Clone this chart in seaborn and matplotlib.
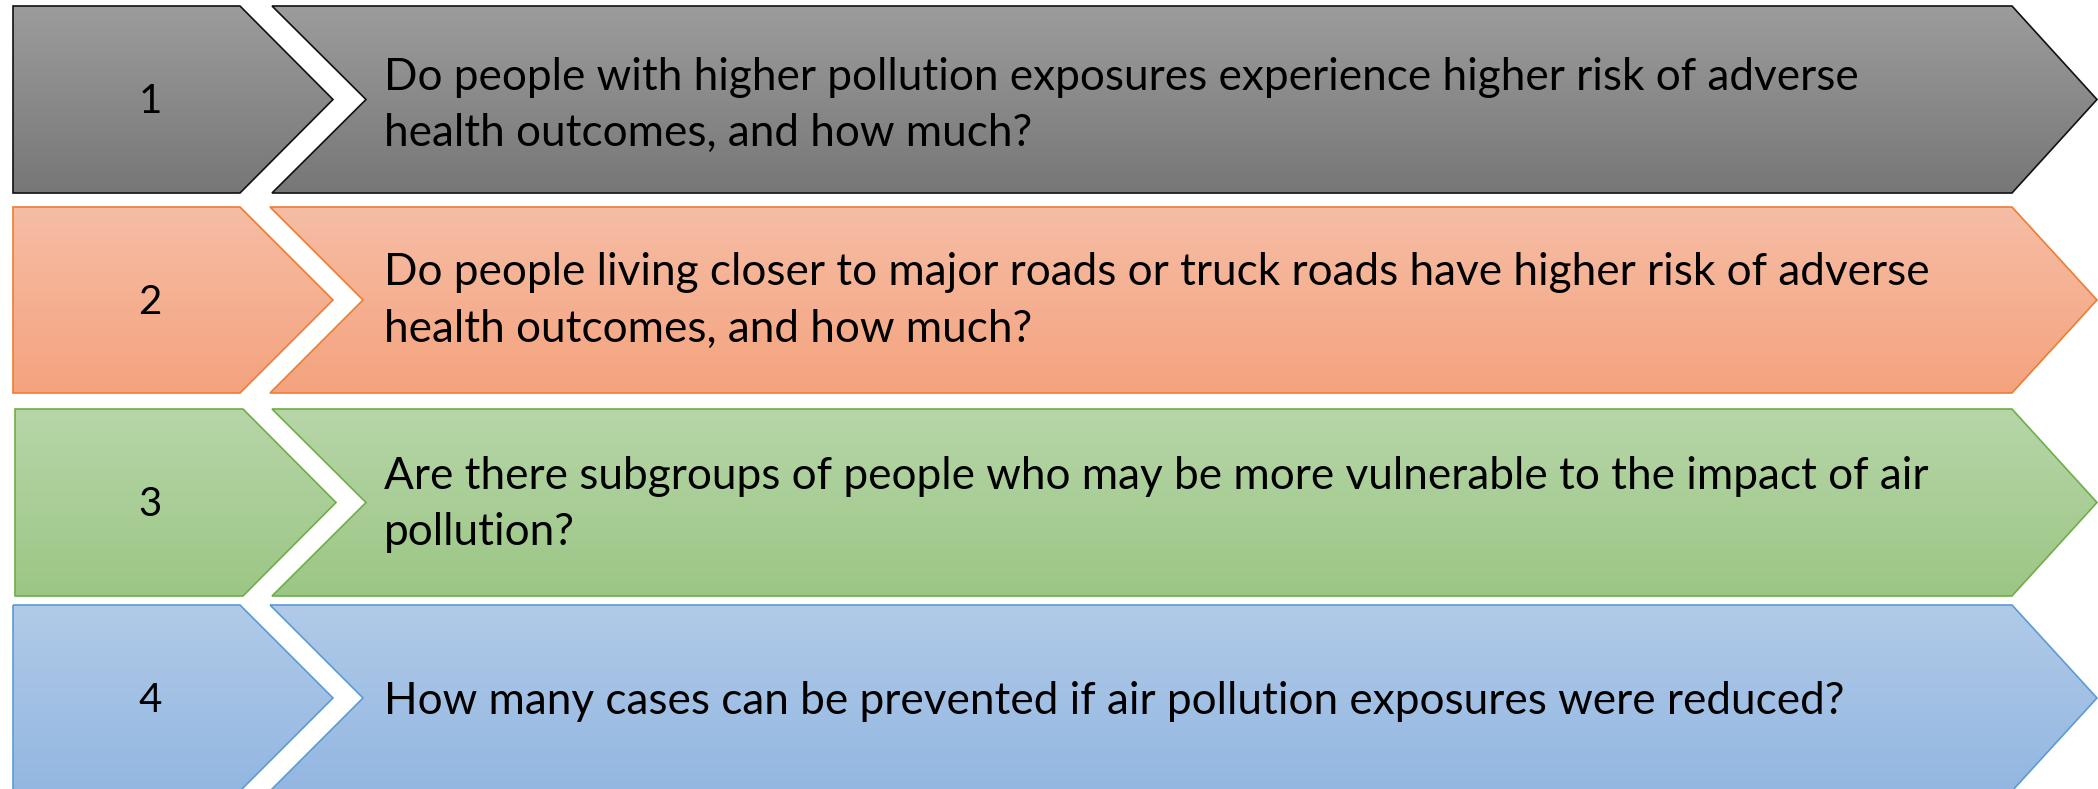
import numpy as np
import matplotlib
matplotlib.use("Agg")
import matplotlib.pyplot as plt
import seaborn as sns
from matplotlib.patches import Polygon
from matplotlib.colors import LinearSegmentedColormap

sns.set_theme(style="white")
plt.rcParams['font.family'] = ['Lato', 'DejaVu Sans']

# ---- content ----
step_numbers = ["1", "2", "3", "4"]
step_questions = [
    "Do people with higher pollution exposures experience higher risk of adverse\nhealth outcomes, and how much?",
    "Do people living closer to major roads or truck roads have higher risk of adverse\nhealth outcomes, and how much?",
    "Are there subgroups of people who may be more vulnerable to the impact of air\npollution?",
    "How many cases can be prevented if air pollution exposures were reduced?",
]
fill_top = ["#9c9c9c", "#f6bda5", "#b6d6a8", "#b1cae8"]
fill_bottom = ["#777777", "#f4a37e", "#9cc685", "#93b7e1"]
edge_colors = ["#111111", "#ed7d31", "#70ad47", "#5b9bd5"]

# ---- layout (pixel units) ----
W, H = 2098, 789
row_top = [6, 207, 409, 605]
row_bot = [193, 393, 596, 791]
left_x0 = [13, 13, 15, 13]
left_xc = [240, 240, 243, 240]
left_xp = [333, 333, 336, 333]
right_xl = [272, 270, 272, 270]
right_xn = [366, 363, 366, 363]
right_xc = 2012
right_xp = 2097
text_dy = [6, 1, 2, 4]

fig = plt.figure(figsize=(W / 100, H / 100), dpi=100)
ax = fig.add_axes([0, 0, 1, 1])
ax.set_xlim(0, W)
ax.set_ylim(H, 0)
ax.axis("off")

num_size = 29
text_size = 31.8

for i in range(4):
    t, b = row_top[i], row_bot[i]
    m = (t + b) / 2
    cmap = LinearSegmentedColormap.from_list(f"g{i}", [fill_top[i], fill_bottom[i]])
    grad = np.linspace(0, 1, 256).reshape(-1, 1)
    shapes = [
        [(left_x0[i], t), (left_xc[i], t), (left_xp[i], m), (left_xc[i], b), (left_x0[i], b)],
        [(right_xl[i], t), (right_xc, t), (right_xp, m), (right_xc, b), (right_xl[i], b), (right_xn[i], m)],
    ]
    for pts in shapes:
        xs = [p[0] for p in pts]
        im = ax.imshow(grad, cmap=cmap, aspect="auto",
                       extent=(min(xs), max(xs), b, t), zorder=1)
        poly = Polygon(pts, closed=True, facecolor="none",
                       edgecolor=edge_colors[i], linewidth=1.2, zorder=2)
        ax.add_patch(poly)
        im.set_clip_path(poly)
    ax.text(150, m + 2, step_numbers[i], ha="center", va="center",
            fontsize=num_size, color="black", zorder=3)
    ax.text(384, m + text_dy[i], step_questions[i], ha="left", va="center",
            fontsize=text_size, color="black", linespacing=1.46, zorder=3)

ax.set_xlim(0, W)
ax.set_ylim(H, 0)
fig.savefig("out.png", dpi=100)
